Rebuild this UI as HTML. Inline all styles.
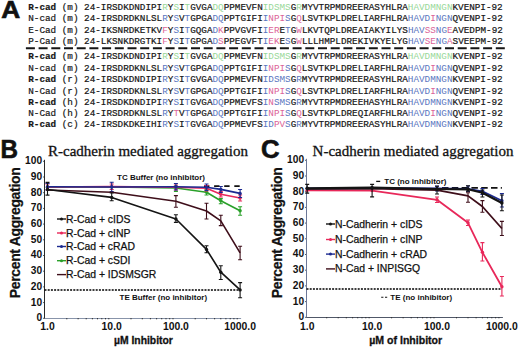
<!DOCTYPE html>
<html><head><meta charset="utf-8"><style>
html,body{margin:0;padding:0;background:#fff;}
body{width:520px;height:347px;overflow:hidden;}
svg{display:block;}
.seq{font-family:"Liberation Mono", monospace;font-size:9.3px;white-space:pre;}
.lab{fill:#161616;stroke:#161616;stroke-width:0.2px;}
.k{fill:#161616;stroke:#161616;stroke-width:0.2px;}
.g{fill:#98d898;}
.b{fill:#5a76c0;}
.p{fill:#dc6498;}
.sans{font-family:"Liberation Sans", sans-serif;}
.serif{font-family:"Liberation Serif", serif;}
</style></head><body>
<svg width="520" height="347" viewBox="0 0 520 347">
<rect width="520" height="347" fill="#fff"/>

<text transform="translate(1.3,18.3) scale(1.07,1.0)" x="0" y="0" class="sans" font-weight="bold" font-size="24.5" fill="#111" stroke="#111" stroke-width="0.7">A</text>
<text x="28.25" y="9.7" class="seq"><tspan class="lab" font-weight="bold">R-cad</tspan><tspan class="lab"> (m) </tspan><tspan class="k">24-</tspan><tspan class="k">IRSDKDNDIPI</tspan><tspan class="g">R</tspan><tspan class="k">Y</tspan><tspan class="g">S</tspan><tspan class="k">I</tspan><tspan class="g">T</tspan><tspan class="k">GVGA</tspan><tspan class="g">DQ</tspan><tspan class="k">PPMEVFN</tspan><tspan class="g">IDSMS</tspan><tspan class="k">G</tspan><tspan class="g">R</tspan><tspan class="k">MYVTRPMDREERASYHLRA</tspan><tspan class="g">HAVDMNGN</tspan><tspan class="k">KVENPI</tspan><tspan class="k">-92</tspan></text>
<text x="28.25" y="21.4" class="seq"><tspan class="lab" font-weight="normal">N-cad</tspan><tspan class="lab"> (m) </tspan><tspan class="k">24-</tspan><tspan class="k">IRSDRDKNLSL</tspan><tspan class="b">R</tspan><tspan class="k">Y</tspan><tspan class="b">S</tspan><tspan class="k">V</tspan><tspan class="b">T</tspan><tspan class="k">GPGA</tspan><tspan class="b">DQ</tspan><tspan class="k">PPTGIFI</tspan><tspan class="b">I</tspan><tspan class="p">NPI</tspan><tspan class="b">S</tspan><tspan class="k">G</tspan><tspan class="p">Q</tspan><tspan class="k">LSVTKPLDRELIARFHLRA</tspan><tspan class="b">HAVD</tspan><tspan class="p">I</tspan><tspan class="b">NGN</tspan><tspan class="k">QVENPI</tspan><tspan class="k">-92</tspan></text>
<text x="28.25" y="32.6" class="seq"><tspan class="lab" font-weight="normal">E-Cad</tspan><tspan class="lab"> (m) </tspan><tspan class="k">24-</tspan><tspan class="k">IKSNRDKETKV</tspan><tspan class="p">F</tspan><tspan class="k">Y</tspan><tspan class="b">S</tspan><tspan class="k">I</tspan><tspan class="b">T</tspan><tspan class="k">GQGA</tspan><tspan class="b">D</tspan><tspan class="p">K</tspan><tspan class="k">PPVGVFI</tspan><tspan class="b">I</tspan><tspan class="p">ER</tspan><tspan class="k">E</tspan><tspan class="b">T</tspan><tspan class="k">G</tspan><tspan class="p">W</tspan><tspan class="k">LKVTQPLDREAIAKYILYS</tspan><tspan class="b">HAV</tspan><tspan class="p">SS</tspan><tspan class="b">NG</tspan><tspan class="p">E</tspan><tspan class="k">AVEDPM</tspan><tspan class="k">-92</tspan></text>
<text x="28.25" y="43.9" class="seq"><tspan class="lab" font-weight="normal">P-Cad</tspan><tspan class="lab"> (m) </tspan><tspan class="k">24-</tspan><tspan class="k">LKSNKDRGTKI</tspan><tspan class="p">F</tspan><tspan class="k">Y</tspan><tspan class="b">S</tspan><tspan class="k">I</tspan><tspan class="b">T</tspan><tspan class="k">GPGA</tspan><tspan class="b">D</tspan><tspan class="p">S</tspan><tspan class="k">PPEGVFT</tspan><tspan class="b">I</tspan><tspan class="p">EK</tspan><tspan class="k">E</tspan><tspan class="b">S</tspan><tspan class="k">G</tspan><tspan class="p">W</tspan><tspan class="k">LLLHMPLDREKIVKYELYG</tspan><tspan class="b">HAV</tspan><tspan class="p">SE</tspan><tspan class="b">NG</tspan><tspan class="p">A</tspan><tspan class="k">SVEEPM</tspan><tspan class="k">-92</tspan></text>
<text x="28.25" y="58.7" class="seq"><tspan class="lab" font-weight="bold">R-cad</tspan><tspan class="lab"> (m) </tspan><tspan class="k">24-</tspan><tspan class="k">IRSDKDNDIPI</tspan><tspan class="g">R</tspan><tspan class="k">Y</tspan><tspan class="g">S</tspan><tspan class="k">I</tspan><tspan class="g">T</tspan><tspan class="k">GVGA</tspan><tspan class="g">DQ</tspan><tspan class="k">PPMEVFN</tspan><tspan class="g">IDSMS</tspan><tspan class="k">G</tspan><tspan class="g">R</tspan><tspan class="k">MYVTRPMDREERASYHLRA</tspan><tspan class="g">HAVDMNGN</tspan><tspan class="k">KVENPI</tspan><tspan class="k">-92</tspan></text>
<text x="28.25" y="71.1" class="seq"><tspan class="lab" font-weight="normal">N-cad</tspan><tspan class="lab"> (m) </tspan><tspan class="k">24-</tspan><tspan class="k">IRSDRDKNLSL</tspan><tspan class="b">R</tspan><tspan class="k">Y</tspan><tspan class="b">S</tspan><tspan class="k">V</tspan><tspan class="b">T</tspan><tspan class="k">GPGA</tspan><tspan class="b">DQ</tspan><tspan class="k">PPTGIFI</tspan><tspan class="b">I</tspan><tspan class="p">NPI</tspan><tspan class="b">S</tspan><tspan class="k">G</tspan><tspan class="p">Q</tspan><tspan class="k">LSVTKPLDRELIARFHLRA</tspan><tspan class="b">HAVD</tspan><tspan class="p">I</tspan><tspan class="b">NGN</tspan><tspan class="k">QVENPI</tspan><tspan class="k">-92</tspan></text>
<text x="28.25" y="82.2" class="seq"><tspan class="lab" font-weight="bold">R-cad</tspan><tspan class="lab"> (r) </tspan><tspan class="k">24-</tspan><tspan class="k">IRSDKDNDIPI</tspan><tspan class="b">R</tspan><tspan class="k">Y</tspan><tspan class="b">S</tspan><tspan class="k">I</tspan><tspan class="b">T</tspan><tspan class="k">GVGA</tspan><tspan class="b">DQ</tspan><tspan class="k">PPMEVFN</tspan><tspan class="b">IDSMS</tspan><tspan class="k">G</tspan><tspan class="b">R</tspan><tspan class="k">MYVTRPMDREERASYHLRA</tspan><tspan class="b">HAVDMNGN</tspan><tspan class="k">KVENPI</tspan><tspan class="k">-92</tspan></text>
<text x="28.25" y="93.6" class="seq"><tspan class="lab" font-weight="normal">N-Cad</tspan><tspan class="lab"> (r) </tspan><tspan class="k">24-</tspan><tspan class="k">IRSDRDKNLSL</tspan><tspan class="b">R</tspan><tspan class="k">Y</tspan><tspan class="b">S</tspan><tspan class="k">V</tspan><tspan class="b">T</tspan><tspan class="k">GPGA</tspan><tspan class="b">DQ</tspan><tspan class="k">PPTGIFI</tspan><tspan class="b">I</tspan><tspan class="p">NPI</tspan><tspan class="b">S</tspan><tspan class="k">G</tspan><tspan class="p">Q</tspan><tspan class="k">LSVTKPLDRELIARFHLRA</tspan><tspan class="b">HAVD</tspan><tspan class="p">I</tspan><tspan class="b">NGN</tspan><tspan class="k">QVENPI</tspan><tspan class="k">-92</tspan></text>
<text x="28.25" y="104.6" class="seq"><tspan class="lab" font-weight="bold">R-cad</tspan><tspan class="lab"> (h) </tspan><tspan class="k">24-</tspan><tspan class="k">IRSDKDNDIPI</tspan><tspan class="b">R</tspan><tspan class="k">Y</tspan><tspan class="b">S</tspan><tspan class="k">I</tspan><tspan class="b">T</tspan><tspan class="k">GVGA</tspan><tspan class="b">DQ</tspan><tspan class="k">PPMEVFS</tspan><tspan class="b">I</tspan><tspan class="p">N</tspan><tspan class="b">SMS</tspan><tspan class="k">G</tspan><tspan class="b">R</tspan><tspan class="k">MYVTRPMDREEHASYHLRA</tspan><tspan class="b">HAVDMNGN</tspan><tspan class="k">KVENPI</tspan><tspan class="k">-92</tspan></text>
<text x="28.25" y="115.8" class="seq"><tspan class="lab" font-weight="normal">N-Cad</tspan><tspan class="lab"> (h) </tspan><tspan class="k">24-</tspan><tspan class="k">IRSDRDKNLSL</tspan><tspan class="b">R</tspan><tspan class="k">Y</tspan><tspan class="p">T</tspan><tspan class="k">V</tspan><tspan class="b">T</tspan><tspan class="k">GPGA</tspan><tspan class="b">DQ</tspan><tspan class="k">PPTGIFI</tspan><tspan class="b">I</tspan><tspan class="p">NPI</tspan><tspan class="b">S</tspan><tspan class="k">G</tspan><tspan class="p">Q</tspan><tspan class="k">LSVTKPLDREQIARFHLRA</tspan><tspan class="b">HAVD</tspan><tspan class="p">I</tspan><tspan class="b">NGN</tspan><tspan class="k">QVENPI</tspan><tspan class="k">-92</tspan></text>
<text x="28.25" y="126.6" class="seq"><tspan class="lab" font-weight="bold">R-cad</tspan><tspan class="lab"> (c) </tspan><tspan class="k">24-</tspan><tspan class="k">IRSDKDKEIHI</tspan><tspan class="b">R</tspan><tspan class="k">Y</tspan><tspan class="b">S</tspan><tspan class="k">I</tspan><tspan class="b">T</tspan><tspan class="k">GVGA</tspan><tspan class="b">DQ</tspan><tspan class="k">PPMEVFS</tspan><tspan class="b">ID</tspan><tspan class="p">PV</tspan><tspan class="b">S</tspan><tspan class="k">G</tspan><tspan class="b">R</tspan><tspan class="k">MYVTRPMDREERASYHLRA</tspan><tspan class="b">HAVDMNGN</tspan><tspan class="k">KVENPI</tspan><tspan class="k">-92</tspan></text>
<line x1="25.9" y1="48.2" x2="505" y2="48.2" stroke="#151515" stroke-width="2" stroke-dasharray="9 3.7"/>
<text transform="translate(0.5,158.4) scale(0.97,1.0)" class="sans" font-weight="bold" font-size="25" fill="#111" stroke="#111" stroke-width="0.6">B</text>
<text x="48.0" y="156.2" class="serif" font-size="15" fill="#111" stroke="#111" stroke-width="0.3" textLength="200.0" lengthAdjust="spacingAndGlyphs">R-cadherin mediated aggregation</text>
<text transform="translate(20.1,232.8) rotate(-90)" text-anchor="middle" class="sans" font-weight="bold" font-size="14" fill="#111" stroke="#111" stroke-width="0.25" textLength="131" lengthAdjust="spacing">Percent Aggregation</text>
<text x="42.1" y="321.2" text-anchor="end" class="sans" font-weight="bold" font-size="10.2" fill="#111">0</text>
<line x1="43.0" y1="318.3" x2="44.5" y2="318.3" stroke="#333" stroke-width="0.8"/>
<text x="42.1" y="305.5" text-anchor="end" class="sans" font-weight="bold" font-size="10.2" fill="#111">10</text>
<line x1="43.0" y1="302.6" x2="44.5" y2="302.6" stroke="#333" stroke-width="0.8"/>
<text x="42.1" y="289.8" text-anchor="end" class="sans" font-weight="bold" font-size="10.2" fill="#111">20</text>
<line x1="43.0" y1="286.9" x2="44.5" y2="286.9" stroke="#333" stroke-width="0.8"/>
<text x="42.1" y="274.1" text-anchor="end" class="sans" font-weight="bold" font-size="10.2" fill="#111">30</text>
<line x1="43.0" y1="271.2" x2="44.5" y2="271.2" stroke="#333" stroke-width="0.8"/>
<text x="42.1" y="258.4" text-anchor="end" class="sans" font-weight="bold" font-size="10.2" fill="#111">40</text>
<line x1="43.0" y1="255.5" x2="44.5" y2="255.5" stroke="#333" stroke-width="0.8"/>
<text x="42.1" y="242.7" text-anchor="end" class="sans" font-weight="bold" font-size="10.2" fill="#111">50</text>
<line x1="43.0" y1="239.8" x2="44.5" y2="239.8" stroke="#333" stroke-width="0.8"/>
<text x="42.1" y="227.0" text-anchor="end" class="sans" font-weight="bold" font-size="10.2" fill="#111">60</text>
<line x1="43.0" y1="224.1" x2="44.5" y2="224.1" stroke="#333" stroke-width="0.8"/>
<text x="42.1" y="211.3" text-anchor="end" class="sans" font-weight="bold" font-size="10.2" fill="#111">70</text>
<line x1="43.0" y1="208.4" x2="44.5" y2="208.4" stroke="#333" stroke-width="0.8"/>
<text x="42.1" y="195.6" text-anchor="end" class="sans" font-weight="bold" font-size="10.2" fill="#111">80</text>
<line x1="43.0" y1="192.7" x2="44.5" y2="192.7" stroke="#333" stroke-width="0.8"/>
<text x="42.1" y="179.9" text-anchor="end" class="sans" font-weight="bold" font-size="10.2" fill="#111">90</text>
<line x1="43.0" y1="177.0" x2="44.5" y2="177.0" stroke="#333" stroke-width="0.8"/>
<text x="42.1" y="164.2" text-anchor="end" class="sans" font-weight="bold" font-size="10.2" fill="#111">100</text>
<line x1="43.0" y1="161.3" x2="44.5" y2="161.3" stroke="#333" stroke-width="0.8"/>
<line x1="44.5" y1="159.8" x2="44.5" y2="319.0" stroke="#2a2a2a" stroke-width="1"/>
<line x1="44.5" y1="318.5" x2="241.10000000000002" y2="318.5" stroke="#8894aa" stroke-width="1"/>
<rect x="66.3" y="318.0" width="1" height="1.3" fill="#333"/>
<rect x="77.6" y="318.0" width="1" height="1.3" fill="#333"/>
<rect x="85.7" y="318.0" width="1" height="1.3" fill="#333"/>
<rect x="91.9" y="318.0" width="1" height="1.3" fill="#333"/>
<rect x="97.0" y="318.0" width="1" height="1.3" fill="#333"/>
<rect x="101.3" y="318.0" width="1" height="1.3" fill="#333"/>
<rect x="105.0" y="318.0" width="1" height="1.3" fill="#333"/>
<rect x="108.3" y="318.0" width="1" height="1.3" fill="#333"/>
<rect x="130.5" y="318.0" width="1" height="1.3" fill="#333"/>
<rect x="141.8" y="318.0" width="1" height="1.3" fill="#333"/>
<rect x="149.9" y="318.0" width="1" height="1.3" fill="#333"/>
<rect x="156.1" y="318.0" width="1" height="1.3" fill="#333"/>
<rect x="161.2" y="318.0" width="1" height="1.3" fill="#333"/>
<rect x="165.5" y="318.0" width="1" height="1.3" fill="#333"/>
<rect x="169.2" y="318.0" width="1" height="1.3" fill="#333"/>
<rect x="172.5" y="318.0" width="1" height="1.3" fill="#333"/>
<rect x="194.7" y="318.0" width="1" height="1.3" fill="#333"/>
<rect x="206.0" y="318.0" width="1" height="1.3" fill="#333"/>
<rect x="214.1" y="318.0" width="1" height="1.3" fill="#333"/>
<rect x="220.3" y="318.0" width="1" height="1.3" fill="#333"/>
<rect x="225.4" y="318.0" width="1" height="1.3" fill="#333"/>
<rect x="229.7" y="318.0" width="1" height="1.3" fill="#333"/>
<rect x="233.4" y="318.0" width="1" height="1.3" fill="#333"/>
<rect x="236.7" y="318.0" width="1" height="1.3" fill="#333"/>
<text x="47.5" y="329.5" text-anchor="middle" class="sans" font-weight="bold" font-size="10.4" fill="#111">1.0</text>
<text x="111.7" y="329.5" text-anchor="middle" class="sans" font-weight="bold" font-size="10.4" fill="#111">10.0</text>
<text x="175.9" y="329.5" text-anchor="middle" class="sans" font-weight="bold" font-size="10.4" fill="#111">100.0</text>
<text x="240.1" y="329.5" text-anchor="middle" class="sans" font-weight="bold" font-size="10.4" fill="#111">1000.0</text>
<text x="114" y="344.2" class="sans" font-weight="bold" font-size="10.35" fill="#111" stroke="#111" stroke-width="0.3">µM Inhibitor</text>
<line x1="204" y1="186.2" x2="240.10000000000002" y2="186.2" stroke="#111" stroke-width="1.7" stroke-dasharray="5.4 4.7"/>
<line x1="44.5" y1="290" x2="240.10000000000002" y2="290" stroke="#000" stroke-width="1.3" stroke-dasharray="2 1.2"/>
<text x="117" y="180.4" class="sans" font-weight="bold" font-size="8.0" fill="#111">TC Buffer (no inhibitor)</text>
<text x="119.5" y="300.2" class="sans" font-weight="bold" font-size="8.0" fill="#111">TE Buffer (no inhibitor)</text>
<path d="M47.5,187.2 L111.7,187.0 L175.9,188.0 L206.5,192.2 L220.8,200.8 L240.1,210.7" fill="none" stroke="#2aa02a" stroke-width="1.6" stroke-linejoin="round"/>
<path d="M175.9,186 V191.5 M173.9,186 h4 M173.9,191.5 h4" stroke="#2aa02a" stroke-width="1.1" fill="none"/>
<path d="M206.5,189.5 V195 M204.5,189.5 h4 M204.5,195 h4" stroke="#2aa02a" stroke-width="1.1" fill="none"/>
<path d="M220.8,198.6 V203.7 M218.8,198.6 h4 M218.8,203.7 h4" stroke="#2aa02a" stroke-width="1.1" fill="none"/>
<path d="M240.1,206.7 V215.3 M238.1,206.7 h4 M238.1,215.3 h4" stroke="#2aa02a" stroke-width="1.1" fill="none"/>
<circle cx="47.5" cy="187.2" r="1.7" fill="#2aa02a"/>
<circle cx="111.7" cy="187.0" r="1.7" fill="#2aa02a"/>
<circle cx="175.9" cy="188.0" r="1.7" fill="#2aa02a"/>
<circle cx="206.5" cy="192.2" r="1.7" fill="#2aa02a"/>
<circle cx="220.8" cy="200.8" r="1.7" fill="#2aa02a"/>
<circle cx="240.1" cy="210.7" r="1.7" fill="#2aa02a"/>
<path d="M47.5,187.0 L111.7,186.6 L175.9,187.3 L206.5,188.2 L220.8,194.2 L240.1,198.0" fill="none" stroke="#e8285a" stroke-width="1.6" stroke-linejoin="round"/>
<path d="M47.5,184 V190 M45.5,184 h4 M45.5,190 h4" stroke="#e8285a" stroke-width="1.1" fill="none"/>
<path d="M111.7,184 V189.5 M109.7,184 h4 M109.7,189.5 h4" stroke="#e8285a" stroke-width="1.1" fill="none"/>
<path d="M175.9,185 V190 M173.9,185 h4 M173.9,190 h4" stroke="#e8285a" stroke-width="1.1" fill="none"/>
<path d="M206.5,185.5 V191 M204.5,185.5 h4 M204.5,191 h4" stroke="#e8285a" stroke-width="1.1" fill="none"/>
<path d="M220.8,191.5 V197 M218.8,191.5 h4 M218.8,197 h4" stroke="#e8285a" stroke-width="1.1" fill="none"/>
<path d="M240.1,195 V201 M238.1,195 h4 M238.1,201 h4" stroke="#e8285a" stroke-width="1.1" fill="none"/>
<circle cx="47.5" cy="187.0" r="1.7" fill="#e8285a"/>
<circle cx="111.7" cy="186.6" r="1.7" fill="#e8285a"/>
<circle cx="175.9" cy="187.3" r="1.7" fill="#e8285a"/>
<circle cx="206.5" cy="188.2" r="1.7" fill="#e8285a"/>
<circle cx="220.8" cy="194.2" r="1.7" fill="#e8285a"/>
<circle cx="240.1" cy="198.0" r="1.7" fill="#e8285a"/>
<path d="M47.5,186.8 L111.7,187.0 L175.9,186.8 L206.5,187.3 L220.8,189.4 L240.1,193.4" fill="none" stroke="#1c2a90" stroke-width="1.6" stroke-linejoin="round"/>
<path d="M47.5,183.5 V190 M45.5,183.5 h4 M45.5,190 h4" stroke="#1c2a90" stroke-width="1.1" fill="none"/>
<path d="M111.7,182.3 V191.5 M109.7,182.3 h4 M109.7,191.5 h4" stroke="#1c2a90" stroke-width="1.1" fill="none"/>
<path d="M175.9,183.5 V190 M173.9,183.5 h4 M173.9,190 h4" stroke="#1c2a90" stroke-width="1.1" fill="none"/>
<path d="M206.5,184 V190.5 M204.5,184 h4 M204.5,190.5 h4" stroke="#1c2a90" stroke-width="1.1" fill="none"/>
<path d="M220.8,186.5 V192.5 M218.8,186.5 h4 M218.8,192.5 h4" stroke="#1c2a90" stroke-width="1.1" fill="none"/>
<path d="M240.1,189.5 V197.5 M238.1,189.5 h4 M238.1,197.5 h4" stroke="#1c2a90" stroke-width="1.1" fill="none"/>
<circle cx="47.5" cy="186.8" r="1.7" fill="#1c2a90"/>
<circle cx="111.7" cy="187.0" r="1.7" fill="#1c2a90"/>
<circle cx="175.9" cy="186.8" r="1.7" fill="#1c2a90"/>
<circle cx="206.5" cy="187.3" r="1.7" fill="#1c2a90"/>
<circle cx="220.8" cy="189.4" r="1.7" fill="#1c2a90"/>
<circle cx="240.1" cy="193.4" r="1.7" fill="#1c2a90"/>
<path d="M47.5,190.0 L111.7,192.3 L175.9,201.2 L206.5,211.0 L220.8,220.9 L240.1,252.8" fill="none" stroke="#3e0e1a" stroke-width="1.6" stroke-linejoin="round"/>
<path d="M175.9,195.6 V207.2 M173.9,195.6 h4 M173.9,207.2 h4" stroke="#3e0e1a" stroke-width="1.1" fill="none"/>
<path d="M206.5,203.2 V219 M204.5,203.2 h4 M204.5,219 h4" stroke="#3e0e1a" stroke-width="1.1" fill="none"/>
<path d="M220.8,215.2 V225.6 M218.8,215.2 h4 M218.8,225.6 h4" stroke="#3e0e1a" stroke-width="1.1" fill="none"/>
<path d="M240.1,246.3 V259.8 M238.1,246.3 h4 M238.1,259.8 h4" stroke="#3e0e1a" stroke-width="1.1" fill="none"/>
<path d="M47.5,189.5 L111.7,197.4 L175.9,219.0 L206.5,249.4 L220.8,272.2 L240.1,289.9" fill="none" stroke="#141414" stroke-width="1.6" stroke-linejoin="round"/>
<path d="M47.5,182.4 V195.1 M45.5,182.4 h4 M45.5,195.1 h4" stroke="#141414" stroke-width="1.1" fill="none"/>
<path d="M111.7,193 V200.8 M109.7,193 h4 M109.7,200.8 h4" stroke="#141414" stroke-width="1.1" fill="none"/>
<path d="M175.9,214.7 V222.4 M173.9,214.7 h4 M173.9,222.4 h4" stroke="#141414" stroke-width="1.1" fill="none"/>
<path d="M206.5,245.8 V252.8 M204.5,245.8 h4 M204.5,252.8 h4" stroke="#141414" stroke-width="1.1" fill="none"/>
<path d="M220.8,265.8 V279.5 M218.8,265.8 h4 M218.8,279.5 h4" stroke="#141414" stroke-width="1.1" fill="none"/>
<path d="M240.1,282.6 V297.7 M238.1,282.6 h4 M238.1,297.7 h4" stroke="#141414" stroke-width="1.1" fill="none"/>
<circle cx="47.5" cy="189.5" r="1.7" fill="#141414"/>
<circle cx="111.7" cy="197.4" r="1.7" fill="#141414"/>
<circle cx="175.9" cy="219.0" r="1.7" fill="#141414"/>
<circle cx="206.5" cy="249.4" r="1.7" fill="#141414"/>
<circle cx="220.8" cy="272.2" r="1.7" fill="#141414"/>
<circle cx="240.1" cy="289.9" r="1.7" fill="#141414"/>
<line x1="57" y1="219.0" x2="66" y2="219.0" stroke="#141414" stroke-width="1.4"/>
<circle cx="61.5" cy="219.0" r="1.5" fill="#141414"/>
<text x="66" y="222.5" class="sans" font-size="10.4" fill="#111" stroke="#111" stroke-width="0.25">R-Cad + cIDS</text>
<line x1="57" y1="233.0" x2="66" y2="233.0" stroke="#e8285a" stroke-width="1.4"/>
<circle cx="61.5" cy="233.0" r="1.5" fill="#e8285a"/>
<text x="66" y="236.5" class="sans" font-size="10.4" fill="#111" stroke="#111" stroke-width="0.25">R-Cad + cINP</text>
<line x1="57" y1="246.5" x2="66" y2="246.5" stroke="#1c2a90" stroke-width="1.4"/>
<circle cx="61.5" cy="246.5" r="1.5" fill="#1c2a90"/>
<text x="66" y="250" class="sans" font-size="10.4" fill="#111" stroke="#111" stroke-width="0.25">R-Cad + cRAD</text>
<line x1="57" y1="260.7" x2="66" y2="260.7" stroke="#2aa02a" stroke-width="1.4"/>
<circle cx="61.5" cy="260.7" r="1.5" fill="#2aa02a"/>
<text x="66" y="264.2" class="sans" font-size="10.4" fill="#111" stroke="#111" stroke-width="0.25">R-Cad + cSDI</text>
<line x1="57" y1="274.6" x2="66" y2="274.6" stroke="#3e0e1a" stroke-width="1.4"/>
<text x="66" y="278.1" class="sans" font-size="10.4" fill="#111" stroke="#111" stroke-width="0.25">R-Cad + IDSMSGR</text>
<text transform="translate(261.0,158.3) scale(1.03,1.0)" class="sans" font-weight="bold" font-size="25" fill="#111" stroke="#111" stroke-width="0.6">C</text>
<text x="312.6" y="155.7" class="serif" font-size="15" fill="#111" stroke="#111" stroke-width="0.3" textLength="200.8" lengthAdjust="spacingAndGlyphs">N-cadherin mediated aggregation</text>
<text transform="translate(282.0,232.8) rotate(-90)" text-anchor="middle" class="sans" font-weight="bold" font-size="14" fill="#111" stroke="#111" stroke-width="0.25" textLength="131" lengthAdjust="spacing">Percent Aggregation</text>
<text x="304.1" y="320.2" text-anchor="end" class="sans" font-weight="bold" font-size="10.2" fill="#111">0</text>
<line x1="305.0" y1="317.3" x2="306.5" y2="317.3" stroke="#333" stroke-width="0.8"/>
<text x="304.1" y="304.5" text-anchor="end" class="sans" font-weight="bold" font-size="10.2" fill="#111">10</text>
<line x1="305.0" y1="301.6" x2="306.5" y2="301.6" stroke="#333" stroke-width="0.8"/>
<text x="304.1" y="288.8" text-anchor="end" class="sans" font-weight="bold" font-size="10.2" fill="#111">20</text>
<line x1="305.0" y1="285.9" x2="306.5" y2="285.9" stroke="#333" stroke-width="0.8"/>
<text x="304.1" y="273.1" text-anchor="end" class="sans" font-weight="bold" font-size="10.2" fill="#111">30</text>
<line x1="305.0" y1="270.2" x2="306.5" y2="270.2" stroke="#333" stroke-width="0.8"/>
<text x="304.1" y="257.4" text-anchor="end" class="sans" font-weight="bold" font-size="10.2" fill="#111">40</text>
<line x1="305.0" y1="254.5" x2="306.5" y2="254.5" stroke="#333" stroke-width="0.8"/>
<text x="304.1" y="241.7" text-anchor="end" class="sans" font-weight="bold" font-size="10.2" fill="#111">50</text>
<line x1="305.0" y1="238.8" x2="306.5" y2="238.8" stroke="#333" stroke-width="0.8"/>
<text x="304.1" y="226.0" text-anchor="end" class="sans" font-weight="bold" font-size="10.2" fill="#111">60</text>
<line x1="305.0" y1="223.1" x2="306.5" y2="223.1" stroke="#333" stroke-width="0.8"/>
<text x="304.1" y="210.3" text-anchor="end" class="sans" font-weight="bold" font-size="10.2" fill="#111">70</text>
<line x1="305.0" y1="207.4" x2="306.5" y2="207.4" stroke="#333" stroke-width="0.8"/>
<text x="304.1" y="194.6" text-anchor="end" class="sans" font-weight="bold" font-size="10.2" fill="#111">80</text>
<line x1="305.0" y1="191.7" x2="306.5" y2="191.7" stroke="#333" stroke-width="0.8"/>
<text x="304.1" y="178.9" text-anchor="end" class="sans" font-weight="bold" font-size="10.2" fill="#111">90</text>
<line x1="305.0" y1="176.0" x2="306.5" y2="176.0" stroke="#333" stroke-width="0.8"/>
<text x="304.1" y="163.2" text-anchor="end" class="sans" font-weight="bold" font-size="10.2" fill="#111">100</text>
<line x1="305.0" y1="160.3" x2="306.5" y2="160.3" stroke="#333" stroke-width="0.8"/>
<line x1="306.5" y1="158.8" x2="306.5" y2="318.0" stroke="#6c7898" stroke-width="1"/>
<line x1="306.5" y1="317.5" x2="502.9" y2="317.5" stroke="#505868" stroke-width="1"/>
<rect x="326.2" y="317.0" width="1" height="1.3" fill="#333"/>
<rect x="337.7" y="317.0" width="1" height="1.3" fill="#333"/>
<rect x="345.8" y="317.0" width="1" height="1.3" fill="#333"/>
<rect x="352.1" y="317.0" width="1" height="1.3" fill="#333"/>
<rect x="357.2" y="317.0" width="1" height="1.3" fill="#333"/>
<rect x="361.5" y="317.0" width="1" height="1.3" fill="#333"/>
<rect x="365.3" y="317.0" width="1" height="1.3" fill="#333"/>
<rect x="368.6" y="317.0" width="1" height="1.3" fill="#333"/>
<rect x="391.1" y="317.0" width="1" height="1.3" fill="#333"/>
<rect x="402.6" y="317.0" width="1" height="1.3" fill="#333"/>
<rect x="410.7" y="317.0" width="1" height="1.3" fill="#333"/>
<rect x="417.0" y="317.0" width="1" height="1.3" fill="#333"/>
<rect x="422.1" y="317.0" width="1" height="1.3" fill="#333"/>
<rect x="426.4" y="317.0" width="1" height="1.3" fill="#333"/>
<rect x="430.2" y="317.0" width="1" height="1.3" fill="#333"/>
<rect x="433.5" y="317.0" width="1" height="1.3" fill="#333"/>
<rect x="456.0" y="317.0" width="1" height="1.3" fill="#333"/>
<rect x="467.5" y="317.0" width="1" height="1.3" fill="#333"/>
<rect x="475.6" y="317.0" width="1" height="1.3" fill="#333"/>
<rect x="481.9" y="317.0" width="1" height="1.3" fill="#333"/>
<rect x="487.0" y="317.0" width="1" height="1.3" fill="#333"/>
<rect x="491.3" y="317.0" width="1" height="1.3" fill="#333"/>
<rect x="495.1" y="317.0" width="1" height="1.3" fill="#333"/>
<rect x="498.4" y="317.0" width="1" height="1.3" fill="#333"/>
<text x="307.2" y="329.5" text-anchor="middle" class="sans" font-weight="bold" font-size="10.4" fill="#111">1.0</text>
<text x="372.1" y="329.5" text-anchor="middle" class="sans" font-weight="bold" font-size="10.4" fill="#111">10.0</text>
<text x="437.0" y="329.5" text-anchor="middle" class="sans" font-weight="bold" font-size="10.4" fill="#111">100.0</text>
<text x="501.9" y="329.5" text-anchor="middle" class="sans" font-weight="bold" font-size="10.4" fill="#111">1000.0</text>
<text x="369.3" y="344.2" class="sans" font-weight="bold" font-size="10.55" fill="#111" stroke="#111" stroke-width="0.3">µM of Inhibitor</text>
<line x1="442" y1="187.8" x2="501.9" y2="187.8" stroke="#111" stroke-width="1.7" stroke-dasharray="6.5 3.3"/>
<line x1="306.5" y1="289" x2="501.9" y2="289" stroke="#000" stroke-width="1.3" stroke-dasharray="2 1.2"/>
<line x1="376.2" y1="181.4" x2="380.2" y2="181.4" stroke="#111" stroke-width="1.3"/>
<line x1="381.2" y1="297.2" x2="387.5" y2="297.2" stroke="#111" stroke-width="1.1" stroke-dasharray="2.2 1.6"/>
<text x="384.3" y="184.4" class="sans" font-weight="bold" font-size="8.0" fill="#111">TC (no inhibitor)</text>
<text x="390.3" y="300.2" class="sans" font-weight="bold" font-size="8.0" fill="#111">TE (no inhibitor)</text>
<path d="M307.2,190.3 L372.1,190.6 L437.0,199.8 L468.0,222.8 L482.4,252.3 L501.9,286.8" fill="none" stroke="#e8285a" stroke-width="1.8" stroke-linejoin="round"/>
<path d="M437.0,197 V202.5 M435.0,197 h4 M435.0,202.5 h4" stroke="#e8285a" stroke-width="1.1" fill="none"/>
<path d="M468.0,220 V225.5 M466.0,220 h4 M466.0,225.5 h4" stroke="#e8285a" stroke-width="1.1" fill="none"/>
<path d="M482.4,242.6 V261 M480.4,242.6 h4 M480.4,261 h4" stroke="#e8285a" stroke-width="1.1" fill="none"/>
<path d="M501.9,276.5 V296 M499.9,276.5 h4 M499.9,296 h4" stroke="#e8285a" stroke-width="1.1" fill="none"/>
<circle cx="307.2" cy="190.3" r="1.7" fill="#e8285a"/>
<circle cx="372.1" cy="190.6" r="1.7" fill="#e8285a"/>
<circle cx="437.0" cy="199.8" r="1.7" fill="#e8285a"/>
<circle cx="468.0" cy="222.8" r="1.7" fill="#e8285a"/>
<circle cx="482.4" cy="252.3" r="1.7" fill="#e8285a"/>
<circle cx="501.9" cy="286.8" r="1.7" fill="#e8285a"/>
<path d="M307.2,188.5 L372.1,188.0 L437.0,188.5 L468.0,188.8 L482.4,191.3 L501.9,200.8" fill="none" stroke="#1c2a90" stroke-width="1.8" stroke-linejoin="round"/>
<path d="M437.0,186 V191 M435.0,186 h4 M435.0,191 h4" stroke="#1c2a90" stroke-width="1.1" fill="none"/>
<path d="M468.0,186 V191.5 M466.0,186 h4 M466.0,191.5 h4" stroke="#1c2a90" stroke-width="1.1" fill="none"/>
<path d="M482.4,188.5 V194.5 M480.4,188.5 h4 M480.4,194.5 h4" stroke="#1c2a90" stroke-width="1.1" fill="none"/>
<path d="M501.9,193.5 V207 M499.9,193.5 h4 M499.9,207 h4" stroke="#1c2a90" stroke-width="1.1" fill="none"/>
<circle cx="307.2" cy="188.5" r="1.7" fill="#1c2a90"/>
<circle cx="372.1" cy="188.0" r="1.7" fill="#1c2a90"/>
<circle cx="437.0" cy="188.5" r="1.7" fill="#1c2a90"/>
<circle cx="468.0" cy="188.8" r="1.7" fill="#1c2a90"/>
<circle cx="482.4" cy="191.3" r="1.7" fill="#1c2a90"/>
<circle cx="501.9" cy="200.8" r="1.7" fill="#1c2a90"/>
<path d="M307.2,188.8 L372.1,188.5 L437.0,190.2 L468.0,195.9 L482.4,206.5 L501.9,228.5" fill="none" stroke="#3e0e1a" stroke-width="1.8" stroke-linejoin="round"/>
<path d="M468.0,192.7 V202.2 M466.0,192.7 h4 M466.0,202.2 h4" stroke="#3e0e1a" stroke-width="1.1" fill="none"/>
<path d="M482.4,200.6 V212.3 M480.4,200.6 h4 M480.4,212.3 h4" stroke="#3e0e1a" stroke-width="1.1" fill="none"/>
<path d="M501.9,221.4 V235.5 M499.9,221.4 h4 M499.9,235.5 h4" stroke="#3e0e1a" stroke-width="1.1" fill="none"/>
<path d="M307.2,188.3 L372.1,187.7 L437.0,189.0 L468.0,189.3 L482.4,192.7 L501.9,203.0" fill="none" stroke="#141414" stroke-width="2.2" stroke-linejoin="round"/>
<path d="M307.2,184.4 V193.1 M305.2,184.4 h4 M305.2,193.1 h4" stroke="#141414" stroke-width="1.1" fill="none"/>
<path d="M372.1,184.4 V196.9 M370.1,184.4 h4 M370.1,196.9 h4" stroke="#141414" stroke-width="1.1" fill="none"/>
<path d="M437.0,186.3 V194 M435.0,186.3 h4 M435.0,194 h4" stroke="#141414" stroke-width="1.1" fill="none"/>
<path d="M468.0,185.8 V191.1 M466.0,185.8 h4 M466.0,191.1 h4" stroke="#141414" stroke-width="1.1" fill="none"/>
<path d="M482.4,190 V197 M480.4,190 h4 M480.4,197 h4" stroke="#141414" stroke-width="1.1" fill="none"/>
<path d="M501.9,195 V210.7 M499.9,195 h4 M499.9,210.7 h4" stroke="#141414" stroke-width="1.1" fill="none"/>
<circle cx="307.2" cy="188.3" r="1.7" fill="#141414"/>
<circle cx="372.1" cy="187.7" r="1.7" fill="#141414"/>
<circle cx="437.0" cy="189.0" r="1.7" fill="#141414"/>
<circle cx="468.0" cy="189.3" r="1.7" fill="#141414"/>
<circle cx="482.4" cy="192.7" r="1.7" fill="#141414"/>
<circle cx="501.9" cy="203.0" r="1.7" fill="#141414"/>
<line x1="326" y1="224.0" x2="335" y2="224.0" stroke="#141414" stroke-width="1.4"/>
<circle cx="330.5" cy="224.0" r="1.5" fill="#141414"/>
<text x="335" y="227.5" class="sans" font-size="10.4" fill="#111" stroke="#111" stroke-width="0.25">N-Cadherin + cIDS</text>
<line x1="326" y1="239.5" x2="335" y2="239.5" stroke="#e8285a" stroke-width="1.4"/>
<circle cx="330.5" cy="239.5" r="1.5" fill="#e8285a"/>
<text x="335" y="243.0" class="sans" font-size="10.4" fill="#111" stroke="#111" stroke-width="0.25">N-Cadherin + cINP</text>
<line x1="326" y1="254.10000000000002" x2="335" y2="254.10000000000002" stroke="#1c2a90" stroke-width="1.4"/>
<circle cx="330.5" cy="254.10000000000002" r="1.5" fill="#1c2a90"/>
<text x="335" y="257.6" class="sans" font-size="10.4" fill="#111" stroke="#111" stroke-width="0.25">N-Cadherin + cRAD</text>
<line x1="326" y1="268.9" x2="335" y2="268.9" stroke="#3e0e1a" stroke-width="1.4"/>
<text x="335" y="272.4" class="sans" font-size="10.4" fill="#111" stroke="#111" stroke-width="0.25">N-Cad + INPISGQ</text>
</svg></body></html>
